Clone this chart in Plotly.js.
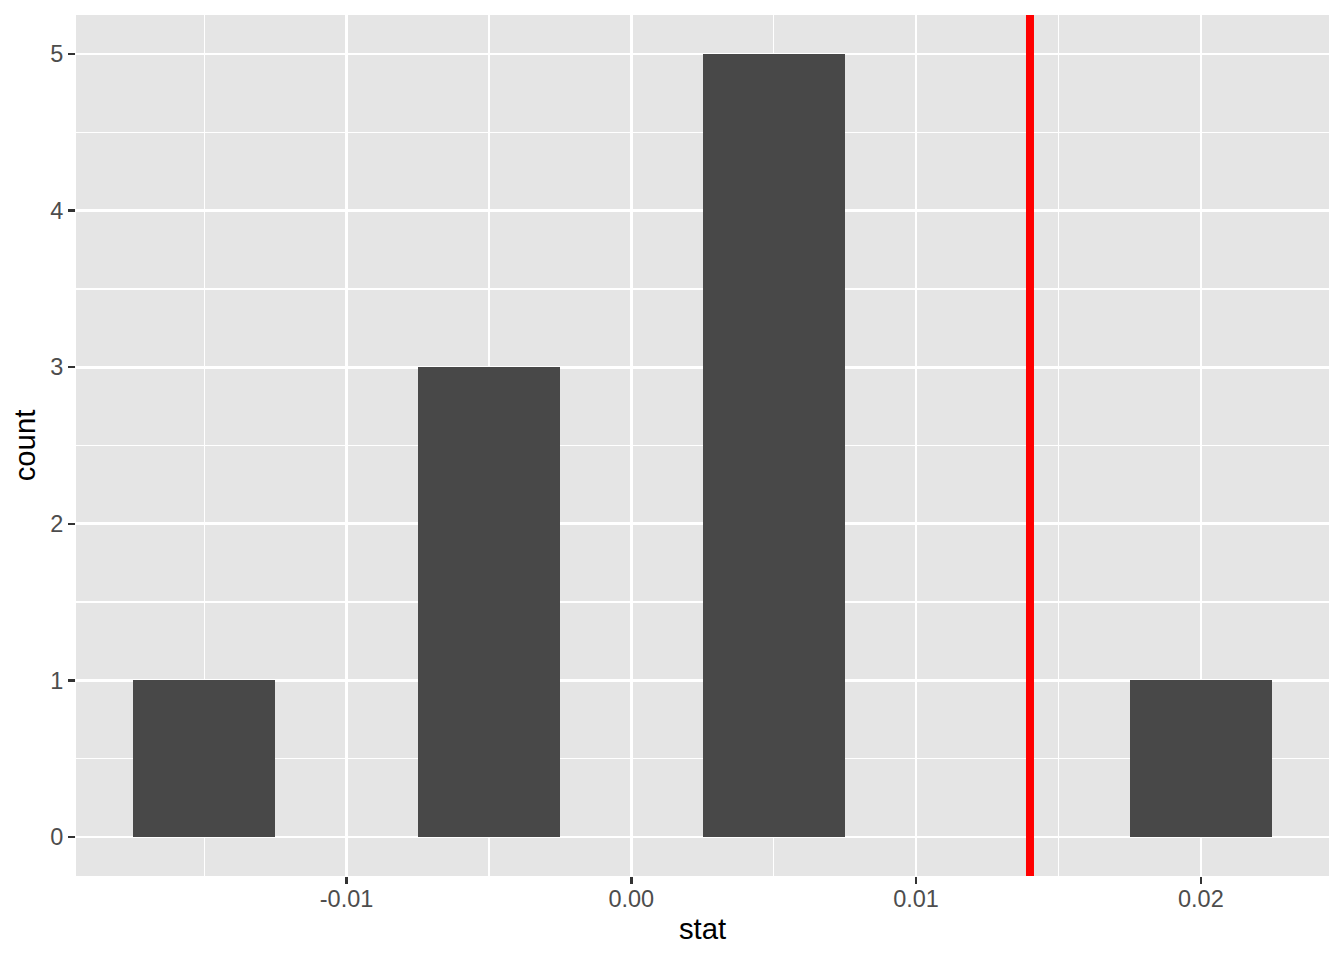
<!DOCTYPE html>
<html>
<head>
<meta charset="utf-8">
<script src="https://cdn.plot.ly/plotly-3.0.1.min.js"></script>
<style>html,body{margin:0;padding:0;background:#fff;}#chart{width:1344px;height:960px;}</style>
</head>
<body>
<div id="chart"></div>
<script>
const binCenters = [-0.015, -0.01, -0.005, 0.0, 0.005, 0.01, 0.015, 0.02];
const counts = [1, 0, 3, 0, 5, 0, 0, 1];
const binWidth = 0.005;
const observedStat = 0.014;
const xTickVals = [-0.01, 0.0, 0.01, 0.02];
const xTickText = ["-0.01", "0.00", "0.01", "0.02"];
const yTickVals = [0, 1, 2, 3, 4, 5];

const trace = {
  type: 'bar',
  x: binCenters,
  y: counts,
  width: binCenters.map(() => binWidth),
  marker: {color: '#484848', line: {width: 0}},
  hoverinfo: 'x+y'
};

const layout = {
  width: 1344, height: 960,
  paper_bgcolor: '#ffffff',
  plot_bgcolor: '#e5e5e5',
  margin: {l: 76, r: 15, t: 15, b: 84},
  showlegend: false,
  bargap: 0,
  font: {family: 'Liberation Sans, Arial, sans-serif'},
  xaxis: {
    range: [-0.0195, 0.0245],
    tickvals: xTickVals, ticktext: xTickText,
    ticks: 'outside', ticklen: 7, tickwidth: 2.5, tickcolor: '#333333',
    ticklabelstandoff: -5,
    tickfont: {size: 23.5, color: '#4d4d4d'},
    showgrid: true, gridcolor: '#ffffff', gridwidth: 2.6,
    minor: {dtick: 0.01, tick0: -0.015, showgrid: true, gridcolor: '#ffffff', gridwidth: 1.3, ticks: ''},
    zeroline: false, showline: false,
    title: {text: 'stat', font: {size: 29.3, color: '#000000'}, standoff: 7}
  },
  yaxis: {
    range: [-0.25, 5.25],
    tickvals: yTickVals,
    ticks: 'outside', ticklen: 7, tickwidth: 2.5, tickcolor: '#333333',
    tickfont: {size: 23.5, color: '#4d4d4d'},
    showgrid: true, gridcolor: '#ffffff', gridwidth: 2.6,
    minor: {dtick: 1, tick0: 0.5, showgrid: true, gridcolor: '#ffffff', gridwidth: 1.3, ticks: ''},
    zeroline: false, showline: false,
    title: {text: 'count', font: {size: 29.3, color: '#000000'}, standoff: 5}
  },
  shapes: [{
    type: 'line', xref: 'x', yref: 'paper',
    x0: observedStat, x1: observedStat, y0: 0, y1: 1,
    line: {color: '#ff0000', width: 8}
  }]
};

Plotly.newPlot('chart', [trace], layout, {displayModeBar: false, staticPlot: true});
</script>
</body>
</html>
